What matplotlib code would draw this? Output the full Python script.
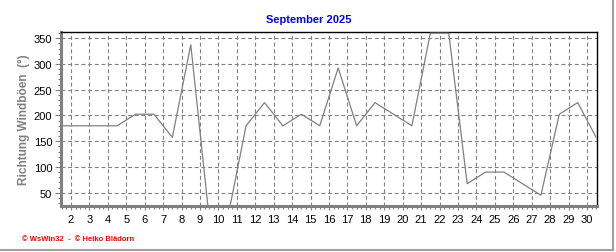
#!/usr/bin/env python3
"""
Wind gust direction for September 2025 (WsWin32 style chart).
"""

import matplotlib
matplotlib.use('Agg')
import matplotlib.pyplot as plt
from matplotlib.lines import Line2D
from matplotlib.ticker import MultipleLocator

# Data: one value per day, plotted at noon
days = [1.5, 2.5, 3.5, 4.5, 5.5, 6.5, 7.5, 8.5, 9.5, 10.5,
        11.5, 12.5, 13.5, 14.5, 15.5, 16.5, 17.5, 18.5, 19.5, 20.5,
        21.5, 22.5, 23.5, 24.5, 25.5, 26.5, 27.5, 28.5, 29.5, 30.5]
direction = [180, 180, 180, 180, 202.5, 202.5, 157.5, 337.5, 0, 0,
             180, 225, 180, 202.5, 180, 292.5, 180, 225, 202.5, 180,
             360, 360, 67.5, 90, 90, 67.5, 45, 202.5, 225, 157.5]
tick_days = list(range(2, 31))
tick_values = [50, 100, 150, 200, 250, 300, 350]

GRAY = '#808080'


def main():
    plt.rcParams['font.family'] = ['Liberation Sans', 'DejaVu Sans']

    fig = plt.figure(figsize=(6.16, 2.53), dpi=100)
    ax = fig.add_axes([0.0985, 0.183, 0.8702, 0.6854])

    ax.plot(days, direction, color=GRAY, linewidth=0.9, zorder=3)

    ax.set_xlim(1.44, 30.53)
    ax.set_ylim(24.7, 361.7)

    # Ticks
    ax.set_xticks(tick_days)
    ax.set_xticklabels([str(d) for d in tick_days])
    ax.xaxis.set_minor_locator(MultipleLocator(0.25))
    ax.set_yticks(tick_values)
    ax.yaxis.set_minor_locator(MultipleLocator(10))
    ax.tick_params(axis='both', which='major', direction='out', length=4,
                   width=0.8, color=GRAY, labelsize=8, labelcolor='black', pad=2)
    ax.tick_params(axis='both', which='minor', direction='out', length=2.5,
                   width=0.8, color=GRAY)
    ax.tick_params(axis='x', which='major', length=3, pad=3)

    # Grid
    ax.grid(True, which='major', color=GRAY, linestyle=(0, (3.5, 2.5)),
            linewidth=0.8, zorder=1)

    # Spines
    for side in ('left', 'bottom'):
        ax.spines[side].set_color(GRAY)
        ax.spines[side].set_linewidth(2.2)
    for side in ('top', 'right'):
        ax.spines[side].set_color('black')
        ax.spines[side].set_linewidth(1.0)

    ax.set_ylabel('Richtung Windböen  (°)', color=GRAY, fontsize=8.5,
                  fontweight='bold', labelpad=3)

    fig.text(0.5015, 0.922, 'September 2025', color='#0000ff', fontsize=8,
             fontweight='bold', ha='center', va='center')

    fig.text(0.036, 0.055, '© WsWin32  -  © Heiko Blädorn', color='red',
             fontsize=5.5, fontweight='bold', ha='left', va='center')

    # Frame on right and bottom edge
    fig.add_artist(Line2D([0, 0.9955], [0.006, 0.006], color='#a0a0a0',
                          linewidth=1.5, transform=fig.transFigure))
    fig.add_artist(Line2D([0.9955, 0.9955], [0.006, 1.0], color='#a0a0a0',
                          linewidth=1.5, transform=fig.transFigure))

    plt.savefig('out.png', dpi=100)


if __name__ == '__main__':
    main()
